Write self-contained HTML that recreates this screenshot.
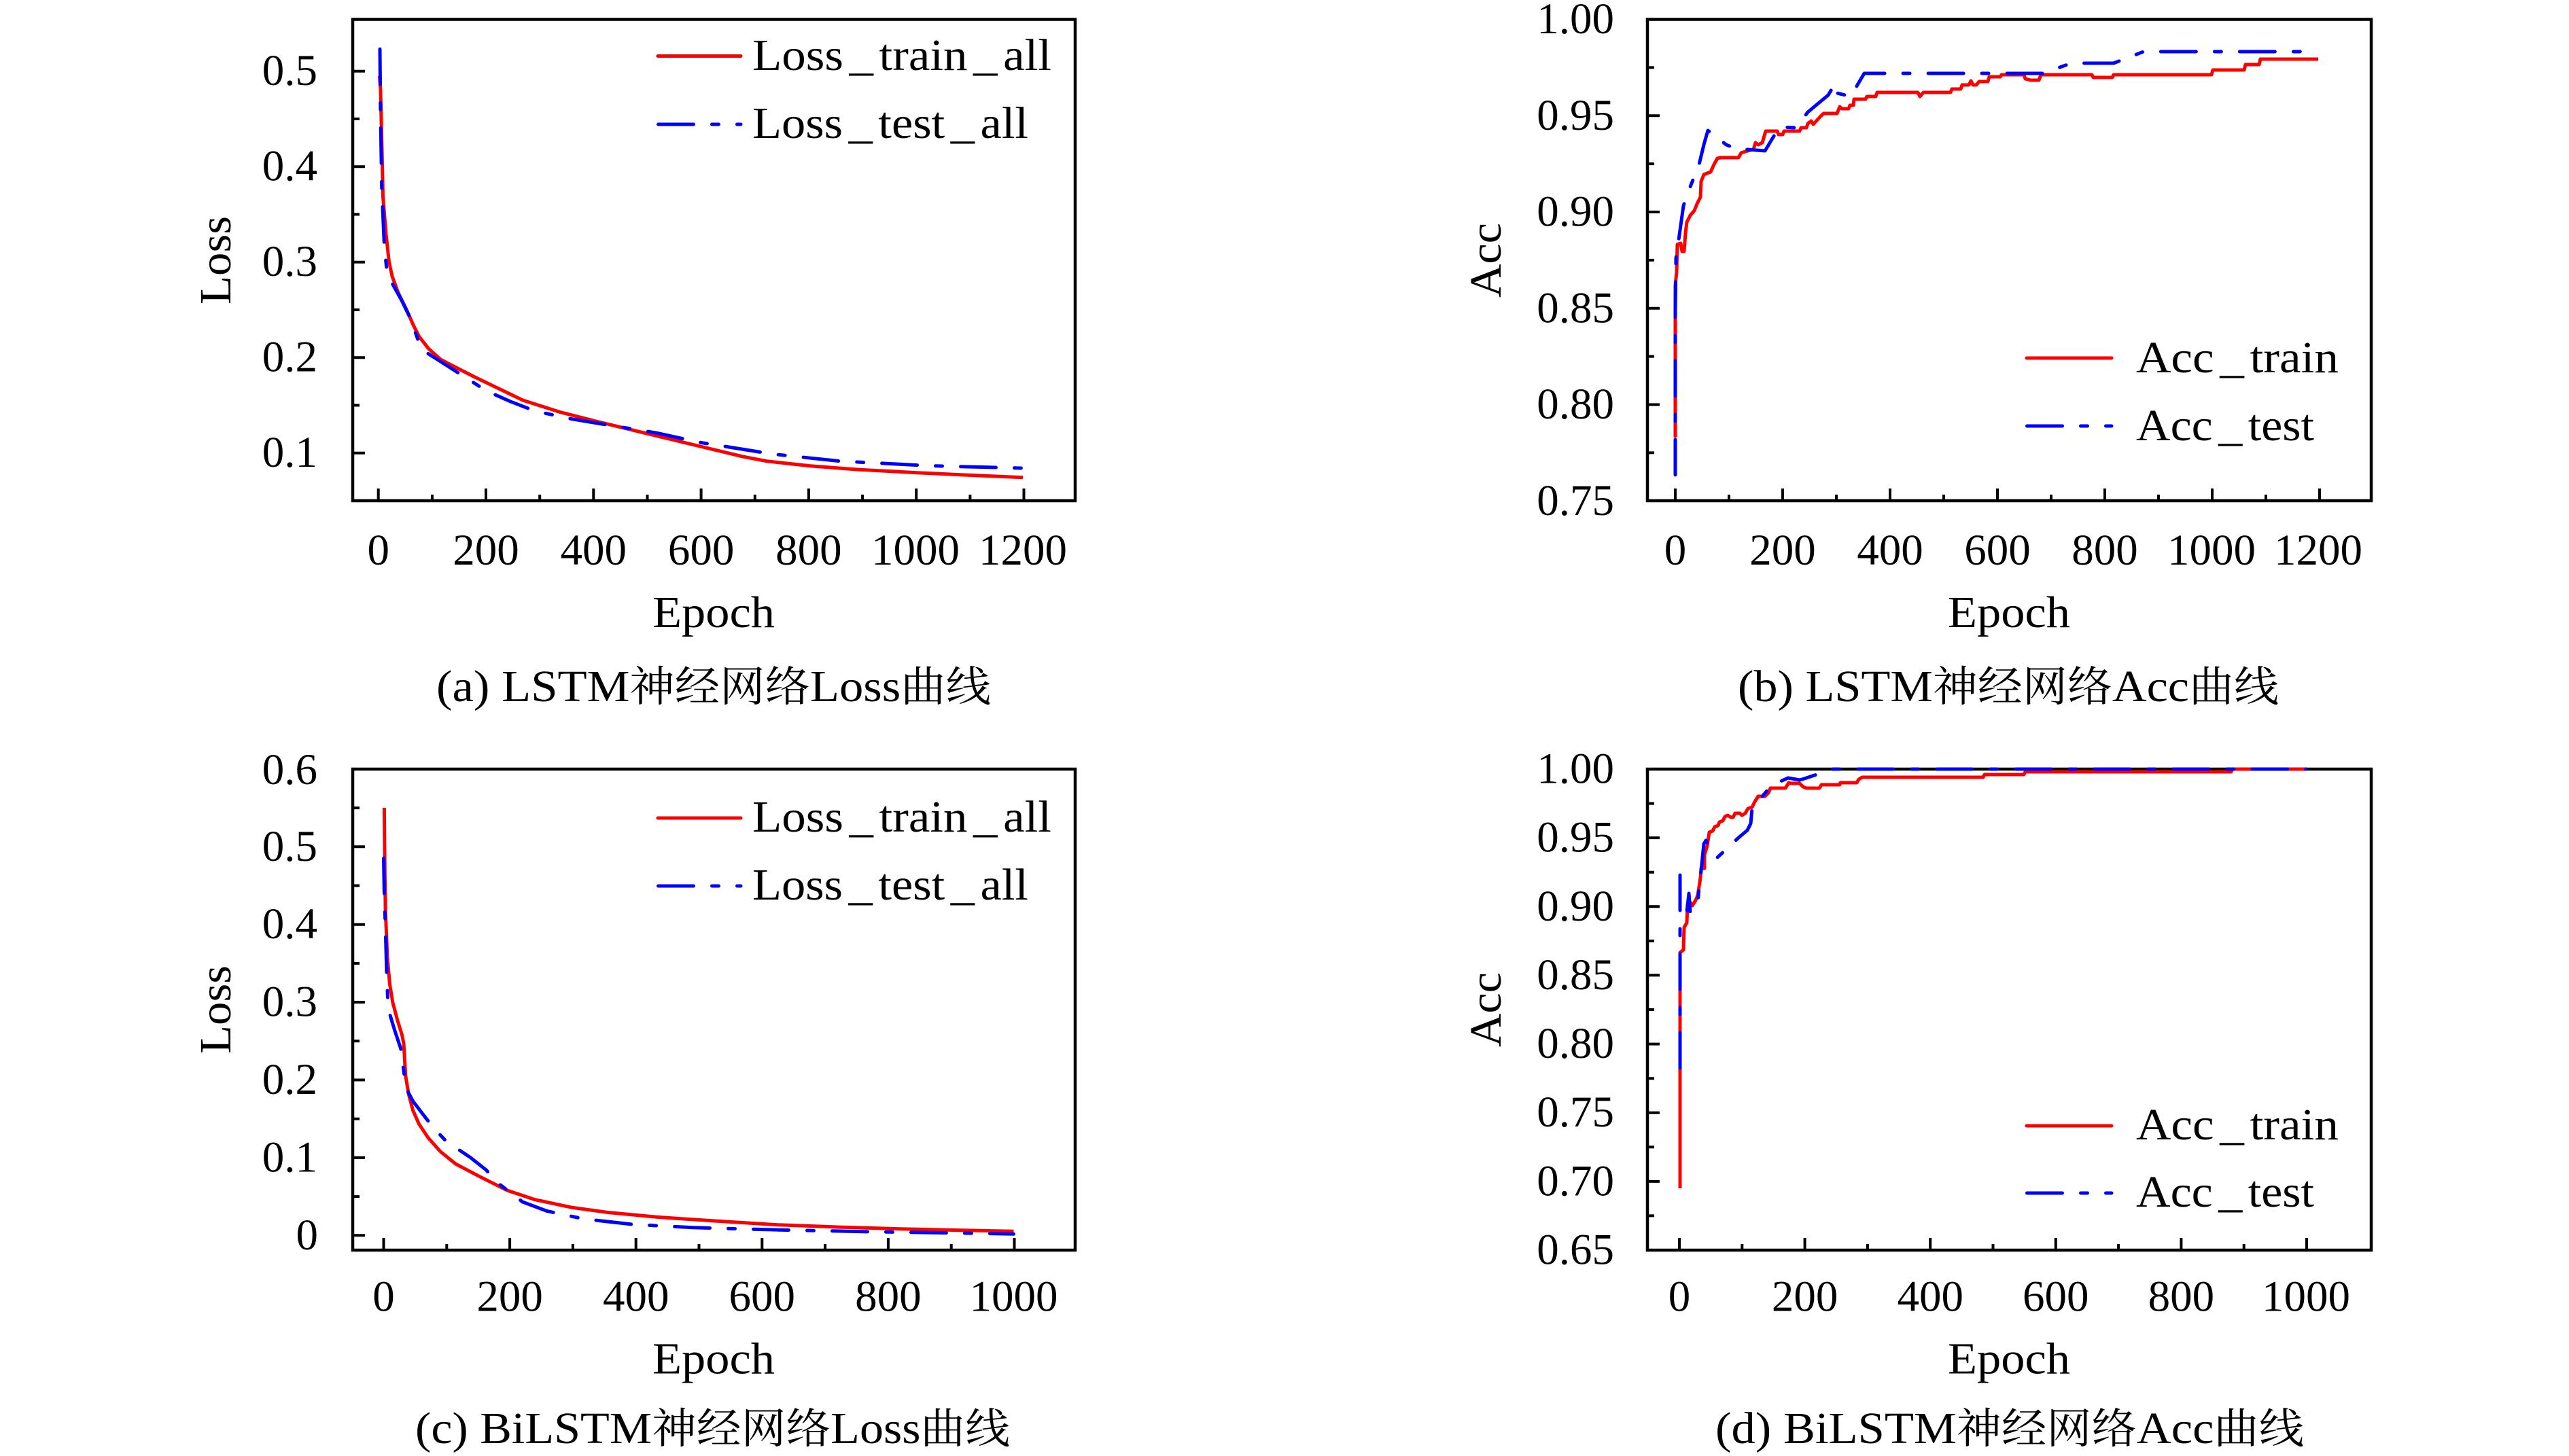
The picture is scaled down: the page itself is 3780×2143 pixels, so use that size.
<!DOCTYPE html>
<html><head><meta charset="utf-8"><style>html,body{margin:0;padding:0;background:#fff}svg{display:block}</style></head>
<body>
<svg xmlns="http://www.w3.org/2000/svg" width="3780" height="2143" viewBox="0 0 3780 2143" font-family="'Liberation Serif', 'Noto Serif CJK SC', serif" fill="#000">
<rect x="0" y="0" width="3780" height="2143" fill="#fff"/>

<!-- ===== Frames ===== -->
<g fill="none" stroke="#000" stroke-width="4.5">
<rect x="519" y="28.5" width="1063" height="708.5"/>
<rect x="2424" y="28.5" width="1065" height="708.5"/>
<rect x="519" y="1132" width="1063" height="708"/>
<rect x="2424" y="1132" width="1065" height="708"/>
</g>

<!-- ===== Ticks ===== -->
<g fill="none" stroke="#000" stroke-width="4">
<!-- plot a -->
<path d="M556.7 737v-18M715 737v-18M873.3 737v-18M1031.6 737v-18M1189.9 737v-18M1348.2 737v-18M1506.5 737v-18"/>
<path d="M635.9 737v-9M794.2 737v-9M952.5 737v-9M1110.8 737v-9M1269.1 737v-9M1427.4 737v-9"/>
<path d="M519 666.7h18M519 526.2h18M519 385.7h18M519 245.2h18M519 104.7h18"/>
<path d="M519 596.5h10M519 456h10M519 315.5h10M519 175h10"/>
<!-- plot b -->
<path d="M2465 737v-18M2623 737v-18M2781 737v-18M2939 737v-18M3097 737v-18M3255 737v-18M3413 737v-18"/>
<path d="M2544 737v-9M2702 737v-9M2860 737v-9M3018 737v-9M3176 737v-9M3334 737v-9"/>
<path d="M2424 170.25h18M2424 312h18M2424 453.75h18M2424 595.5h18"/>
<path d="M2424 99.4h10M2424 241.1h10M2424 382.9h10M2424 524.6h10M2424 666.4h10"/>
<!-- plot c -->
<path d="M564.5 1840v-18M750.1 1840v-18M935.7 1840v-18M1121.3 1840v-18M1306.9 1840v-18M1492.5 1840v-18"/>
<path d="M657.3 1840v-9M842.9 1840v-9M1028.5 1840v-9M1214.1 1840v-9M1399.7 1840v-9"/>
<path d="M519 1818.3h18M519 1703.9h18M519 1589.5h18M519 1475.1h18M519 1360.7h18M519 1246.3h18"/>
<path d="M519 1761.1h10M519 1646.7h10M519 1532.3h10M519 1417.9h10M519 1303.5h10M519 1189.1h10"/>
<!-- plot d -->
<path d="M2471 1840v-18M2655.6 1840v-18M2840.2 1840v-18M3024.8 1840v-18M3209.4 1840v-18M3394 1840v-18"/>
<path d="M2563.3 1840v-9M2747.9 1840v-9M2932.5 1840v-9M3117.1 1840v-9M3301.7 1840v-9"/>
<path d="M2424 1233.1h18M2424 1334.3h18M2424 1435.4h18M2424 1536.6h18M2424 1637.7h18M2424 1738.9h18"/>
<path d="M2424 1182.6h10M2424 1283.7h10M2424 1384.9h10M2424 1486h10M2424 1587.2h10M2424 1688.3h10M2424 1789.4h10"/>
</g>

<!-- ===== Tick labels ===== -->
<g font-size="65">
<g text-anchor="end">
<text x="467" y="125.2">0.5</text>
<text x="467" y="265.7">0.4</text>
<text x="467" y="406.2">0.3</text>
<text x="467" y="546.7">0.2</text>
<text x="467" y="687.2">0.1</text>

<text x="2375" y="49">1.00</text>
<text x="2375" y="190.8">0.95</text>
<text x="2375" y="332.5">0.90</text>
<text x="2375" y="474.3">0.85</text>
<text x="2375" y="616">0.80</text>
<text x="2375" y="757.8">0.75</text>

<text x="467" y="1154">0.6</text>
<text x="467" y="1266.8">0.5</text>
<text x="467" y="1381.2">0.4</text>
<text x="467" y="1495.6">0.3</text>
<text x="467" y="1610">0.2</text>
<text x="467" y="1724.4">0.1</text>
<text x="468" y="1838.8">0</text>

<text x="2375" y="1152.5">1.00</text>
<text x="2375" y="1253.6">0.95</text>
<text x="2375" y="1354.8">0.90</text>
<text x="2375" y="1455.9">0.85</text>
<text x="2375" y="1557.1">0.80</text>
<text x="2375" y="1658.2">0.75</text>
<text x="2375" y="1759.4">0.70</text>
<text x="2375" y="1860.5">0.65</text>
</g>
<g text-anchor="middle">
<text x="556.7" y="831">0</text>
<text x="715" y="831">200</text>
<text x="873.3" y="831">400</text>
<text x="1031.6" y="831">600</text>
<text x="1189.9" y="831">800</text>
<text x="1347" y="831">1000</text>
<text x="1505" y="831">1200</text>

<text x="2465" y="831">0</text>
<text x="2623" y="831">200</text>
<text x="2781" y="831">400</text>
<text x="2939" y="831">600</text>
<text x="3097" y="831">800</text>
<text x="3254" y="831">1000</text>
<text x="3411" y="831">1200</text>

<text x="564.5" y="1929.3">0</text>
<text x="750.1" y="1929.3">200</text>
<text x="935.7" y="1929.3">400</text>
<text x="1121.3" y="1929.3">600</text>
<text x="1306.9" y="1929.3">800</text>
<text x="1491.5" y="1929.3">1000</text>

<text x="2471" y="1929.3">0</text>
<text x="2655.6" y="1929.3">200</text>
<text x="2840.2" y="1929.3">400</text>
<text x="3024.8" y="1929.3">600</text>
<text x="3209.4" y="1929.3">800</text>
<text x="3393" y="1929.3">1000</text>
</g>
</g>

<!-- ===== Axis labels ===== -->
<g font-size="66" text-anchor="middle">
<text x="1050" y="923" textLength="180" lengthAdjust="spacingAndGlyphs">Epoch</text>
<text x="2956" y="923" textLength="180" lengthAdjust="spacingAndGlyphs">Epoch</text>
<text x="1050" y="2021.6" textLength="180" lengthAdjust="spacingAndGlyphs">Epoch</text>
<text x="2956" y="2021.6" textLength="180" lengthAdjust="spacingAndGlyphs">Epoch</text>
<text transform="translate(339,383) rotate(-90)" textLength="130" lengthAdjust="spacingAndGlyphs">Loss</text>
<text transform="translate(339,1486) rotate(-90)" textLength="130" lengthAdjust="spacingAndGlyphs">Loss</text>
<text transform="translate(2208,383) rotate(-90)" textLength="110" lengthAdjust="spacingAndGlyphs">Acc</text>
<text transform="translate(2208,1486) rotate(-90)" textLength="110" lengthAdjust="spacingAndGlyphs">Acc</text>
</g>

<!-- ===== Curves ===== -->
<g fill="none" stroke-width="5" stroke-linejoin="round">
<!-- plot a -->
<polyline stroke="#ff0000" points="558.5,112 559.9,130.9 561.7,206.7 563.5,289.4 568,344.5 572.5,385.8 577,406.5 585.9,430.6 599.3,458.2 608.3,478.9 617.2,496.1 630.7,513.3 648.6,529.2 671,540.9 697.9,554.6 733.7,571.9 769.5,589.1 823.2,606.3 877,620.1 948.6,637.3 1020.3,654.6 1092,671.8 1127.8,678.7 1190.5,685.6 1262.1,691.1 1351.7,695.9 1441.3,700 1505,702.8"/>
<polyline stroke="#0000ff" stroke-dasharray="52 27 10 27" stroke-linecap="round" points="559,72.3 559.9,165.4 561.7,275.6 565.3,358.3 568.9,396.2 576.9,416.8 590.4,441 603.8,468.5 617.2,506.4 626.2,518.1 662,540.9 715.8,575.3 751.6,591.2 787.4,605 841.2,616.7 903.9,627 966.6,637.3 1029.3,651.1 1136.7,668.3 1235.3,678.7 1369.6,685.6 1503,689"/>

<!-- plot b -->
<polyline stroke="#ff0000" points="2465,644 2465,420 2467,400 2468,360 2473,358 2475,370 2478,370 2480,343 2482,327 2487,317 2493,310 2497,300 2502,290 2503,267 2507,257 2517,253 2522,242 2527,233 2532,232 2558,232 2562,225 2568,223 2580,220 2583,210 2587,213 2593,210 2598,193 2615,193 2617,198 2623,198 2625,193 2648,193 2650,188 2658,188 2660,182 2665,178 2668,183 2678,172 2683,167 2703,167 2707,157 2710,160 2720,160 2722,155 2727,155 2728,146 2745,146 2747,142 2760,142 2762,136 2822,136 2825,142 2830,136 2870,136 2872,131 2885,131 2887,125 2897,125 2900,119 2903,125 2908,125 2912,120 2925,120 2927,113 2943,113 2945,110 2978,110 2980,116 2988,118 3000,118 3003,110 3078,110 3080,114 3108,114 3110,110 3254,110 3256,103 3302,103 3304,95 3324,95 3326,87 3411,87"/>
<polyline stroke="#0000ff" stroke-dasharray="52 27 10 27" stroke-linecap="round" points="2465,699 2465,457 2466,380 2470,353 2477,303 2483,285 2500,242 2507,213 2513,192 2540,213 2557,220 2570,220 2597,222 2618,187 2643,188 2660,165 2690,140 2700,123 2703,137 2723,142 2743,108 3005,108 3048,93 3110,93 3154,76 3394,76"/>

<!-- plot c -->
<polyline stroke="#ff0000" points="565.4,1189 566.3,1286.8 567.2,1340.7 569.9,1408.2 573.5,1448.6 577.9,1475.6 585.1,1502.6 591.4,1522.8 594.1,1536.3 596.8,1583.5 601.3,1610.5 607.5,1634.1 616.5,1654.4 630,1674.6 647.9,1694.8 670.3,1713 706.2,1731.9 746.5,1752.1 786.9,1765.6 840.7,1777.1 894.5,1784.5 966.2,1791.3 1055.8,1797.3 1145.5,1802.8 1235.2,1806.1 1324.8,1808.8 1414.5,1810.8 1491.5,1812.2"/>
<polyline stroke="#0000ff" stroke-dasharray="52 27 10 27" stroke-linecap="round" points="564.5,1263.1 565.4,1313.7 567.2,1367.7 569,1435.1 570.8,1475.6 573.5,1492.5 580.6,1516.1 589.6,1543.1 595,1583.5 598.6,1603.8 607.5,1620.6 625.5,1644.2 638,1660 656.7,1680 691.7,1703.3 715,1721.7 733.3,1741.7 768.9,1769 804.8,1782.5 858.6,1794 930.3,1802.1 1020,1806.8 1145.5,1810.2 1280,1812.9 1414.5,1814.9 1491.5,1816.2"/>

<!-- plot d -->
<polyline stroke="#ff0000" points="2472,1749 2472,1402 2477,1398 2478,1365 2482,1358 2483,1332 2487,1328 2490,1333 2495,1325 2498,1318 2502,1292 2503,1278 2508,1278 2508,1258 2512,1245 2515,1225 2520,1223 2523,1217 2528,1215 2530,1210 2535,1208 2538,1202 2542,1200 2547,1203 2550,1203 2553,1197 2560,1197 2563,1200 2568,1197 2572,1190 2578,1188 2582,1180 2587,1172 2597,1172 2602,1167 2605,1160 2627,1160 2632,1152 2635,1153 2648,1153 2653,1158 2658,1160 2677,1160 2680,1155 2707,1155 2708,1152 2732,1152 2735,1147 2740,1144 2918,1144 2920,1140 2978,1140 2980,1136 3283,1136 3285,1132 3393,1132"/>
<polyline stroke="#0000ff" stroke-dasharray="52 27 10 27" stroke-linecap="round" points="2472,1572 2472,1288 2472,1340 2482,1342 2485,1315 2487,1343 2498,1329 2500,1307 2502,1292 2507,1242 2510,1237 2527,1262 2558,1233 2571,1222 2576,1212 2578,1190 2605,1158 2620,1150 2631,1145 2648,1148 2655,1146 2697,1132 3393,1132"/>
</g>

<!-- ===== Legends ===== -->
<g fill="none" stroke-width="5" stroke-linecap="round">
<path stroke="#ff0000" d="M968 82.5H1090"/>
<path stroke="#0000ff" stroke-dasharray="52 27 10 27" d="M968.5 183H1090"/>
<path stroke="#ff0000" d="M968 1204H1090"/>
<path stroke="#0000ff" stroke-dasharray="52 27 10 27" d="M968.5 1304H1090"/>
<path stroke="#ff0000" d="M2982 527H3107"/>
<path stroke="#0000ff" stroke-dasharray="52 27 10 27" d="M2982.5 627H3107"/>
<path stroke="#ff0000" d="M2982 1657H3107"/>
<path stroke="#0000ff" stroke-dasharray="52 27 10 27" d="M2982.5 1756H3107"/>
</g>
<g font-size="66">
<text x="1107" y="103" textLength="440" lengthAdjust="spacingAndGlyphs">Loss<tspan dx="8">_</tspan><tspan dx="8">train</tspan><tspan dx="8">_</tspan><tspan dx="8">all</tspan></text>
<text x="1107" y="203" textLength="406" lengthAdjust="spacingAndGlyphs">Loss<tspan dx="8">_</tspan><tspan dx="8">test</tspan><tspan dx="8">_</tspan><tspan dx="8">all</tspan></text>
<text x="1107" y="1224" textLength="440" lengthAdjust="spacingAndGlyphs">Loss<tspan dx="8">_</tspan><tspan dx="8">train</tspan><tspan dx="8">_</tspan><tspan dx="8">all</tspan></text>
<text x="1107" y="1324" textLength="406" lengthAdjust="spacingAndGlyphs">Loss<tspan dx="8">_</tspan><tspan dx="8">test</tspan><tspan dx="8">_</tspan><tspan dx="8">all</tspan></text>
<text x="3143" y="548" textLength="298" lengthAdjust="spacingAndGlyphs">Acc<tspan dx="8">_</tspan><tspan dx="8">train</tspan></text>
<text x="3143" y="648" textLength="262" lengthAdjust="spacingAndGlyphs">Acc<tspan dx="8">_</tspan><tspan dx="8">test</tspan></text>
<text x="3143" y="1677" textLength="298" lengthAdjust="spacingAndGlyphs">Acc<tspan dx="8">_</tspan><tspan dx="8">train</tspan></text>
<text x="3143" y="1776" textLength="262" lengthAdjust="spacingAndGlyphs">Acc<tspan dx="8">_</tspan><tspan dx="8">test</tspan></text>
</g>

<!-- ===== Captions ===== -->
<g font-size="66">
<text x="642" y="1032" textLength="816" lengthAdjust="spacingAndGlyphs">(a) LSTM<tspan font-family="'Noto Serif CJK SC', serif" font-size="62">神经网络</tspan>Loss<tspan font-family="'Noto Serif CJK SC', serif" font-size="62">曲线</tspan></text>
<text x="2557" y="1032" textLength="796" lengthAdjust="spacingAndGlyphs">(b) LSTM<tspan font-family="'Noto Serif CJK SC', serif" font-size="62">神经网络</tspan>Acc<tspan font-family="'Noto Serif CJK SC', serif" font-size="62">曲线</tspan></text>
<text x="611" y="2124" textLength="875" lengthAdjust="spacingAndGlyphs">(c) BiLSTM<tspan font-family="'Noto Serif CJK SC', serif" font-size="62">神经网络</tspan>Loss<tspan font-family="'Noto Serif CJK SC', serif" font-size="62">曲线</tspan></text>
<text x="2524" y="2124" textLength="866" lengthAdjust="spacingAndGlyphs">(d) BiLSTM<tspan font-family="'Noto Serif CJK SC', serif" font-size="62">神经网络</tspan>Acc<tspan font-family="'Noto Serif CJK SC', serif" font-size="62">曲线</tspan></text>
</g>
</svg>
</body></html>
